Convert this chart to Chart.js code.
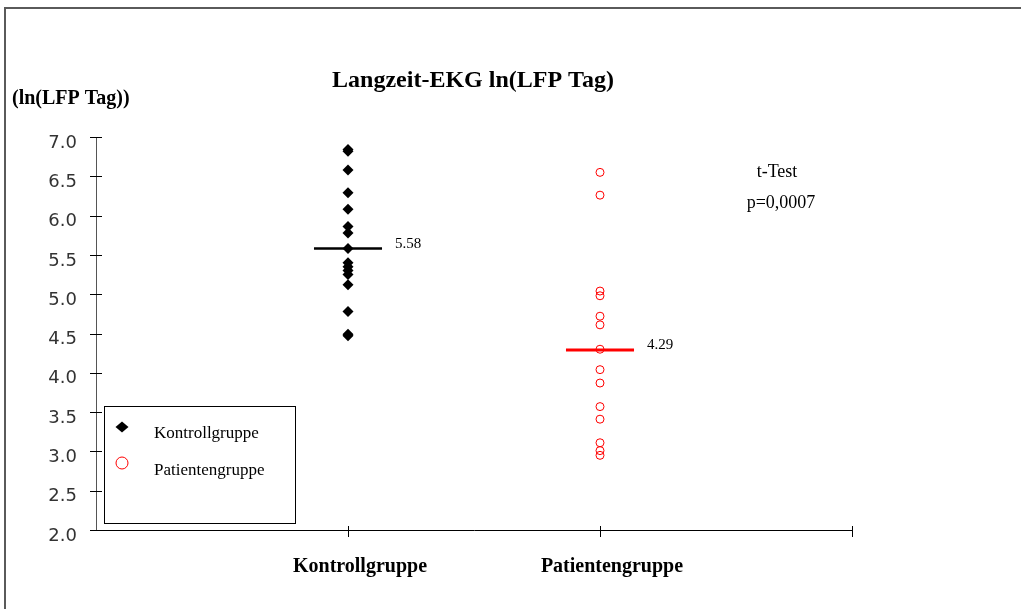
<!DOCTYPE html>
<html>
<head>
<meta charset="utf-8">
<script src="https://cdn.jsdelivr.net/npm/chart.js@4/dist/chart.umd.min.js"></script>
<style>
  html, body { margin: 0; padding: 0; background: #fff; }
  #wrap { position: relative; width: 1021px; height: 609px; }
</style>
</head>
<body>
<div id="wrap"><canvas id="chart" width="1021" height="609"></canvas></div>
<script>
// categories and values
const categories = ['Kontrollgruppe', 'Patientengruppe'];
const kontrollValues = [6.84, 6.82, 6.58, 6.29, 6.08, 5.86, 5.78, 5.58, 5.40, 5.35, 5.30, 5.25, 5.12, 4.78, 4.49, 4.47];
const patientValues = [6.55, 6.26, 5.04, 4.98, 4.72, 4.61, 4.30, 4.04, 3.87, 3.57, 3.41, 3.11, 3.01, 2.95];
const means = [5.58, 4.29];
const meanLabels = ['5.58', '4.29'];
const yMin = 2.0, yMax = 7.0, yStep = 0.5;
const testLines = ['t-Test', 'p=0,0007'];

const serif = '"Liberation Serif", "Times New Roman", serif';
const meanHalf = 0.135;

// frame, titles, custom tick marks, legend box and annotations
const decorPlugin = {
  id: 'decor',
  beforeDraw(chart) {
    const ctx = chart.ctx;
    ctx.save();
    ctx.fillStyle = '#fff';
    ctx.fillRect(0, 0, chart.width, chart.height);
    ctx.strokeStyle = '#5a5a5a';
    ctx.lineWidth = 2;
    ctx.beginPath();
    ctx.moveTo(5, chart.height);
    ctx.lineTo(5, 8);
    ctx.lineTo(chart.width, 8);
    ctx.stroke();
    ctx.restore();
  },
  afterDraw(chart) {
    const ctx = chart.ctx;
    const x = chart.scales.x, y = chart.scales.y;
    const area = chart.chartArea;
    ctx.save();

    // tick marks crossing the axes
    ctx.strokeStyle = '#000';
    ctx.lineWidth = 1;
    ctx.beginPath();
    y.ticks.forEach(t => {
      const py = Math.round(y.getPixelForValue(t.value)) + 0.5;
      ctx.moveTo(area.left - 6, py);
      ctx.lineTo(area.left + 6, py);
    });
    [1, 2, 3].forEach(v => {
      const px = Math.round(x.getPixelForValue(v)) + 0.5;
      ctx.moveTo(px, area.bottom - 4);
      ctx.lineTo(px, area.bottom + 7);
    });
    ctx.stroke();

    // main title
    ctx.fillStyle = '#000';
    ctx.textBaseline = 'middle';
    ctx.textAlign = 'center';
    ctx.font = 'bold 24px ' + serif;
    ctx.fillText('Langzeit-EKG ln(LFP Tag)', 473, 81);

    // y axis title
    ctx.textAlign = 'left';
    ctx.font = 'bold 20px ' + serif;
    ctx.fillText('(ln(LFP Tag))', 12, 99);

    // mean value labels
    ctx.font = '15px ' + serif;
    means.forEach((m, i) => {
      const px = x.getPixelForValue(i + 1 + meanHalf) + 13;
      const py = y.getPixelForValue(m) - 5;
      ctx.fillText(meanLabels[i], px, py);
    });

    // t-test text
    ctx.textAlign = 'center';
    ctx.font = '18px ' + serif;
    ctx.fillText(testLines[0], 777, 172);
    ctx.fillText(testLines[1], 781, 203);

    // legend box
    ctx.fillStyle = '#fff';
    ctx.fillRect(104.5, 406.5, 191, 117);
    ctx.strokeStyle = '#000';
    ctx.lineWidth = 1;
    ctx.strokeRect(104.5, 406.5, 191, 117);

    ctx.fillStyle = '#000';
    ctx.beginPath();
    ctx.moveTo(122, 421.5);
    ctx.lineTo(128.5, 427);
    ctx.lineTo(122, 432.5);
    ctx.lineTo(115.5, 427);
    ctx.closePath();
    ctx.fill();

    ctx.strokeStyle = '#ff0000';
    ctx.beginPath();
    ctx.arc(122, 463, 6, 0, Math.PI * 2);
    ctx.stroke();

    ctx.fillStyle = '#000';
    ctx.textAlign = 'left';
    ctx.font = '17px ' + serif;
    ctx.fillText(categories[0], 154, 434);
    ctx.fillText(categories[1], 154, 471);

    ctx.restore();
  }
};

const chart = new Chart(document.getElementById('chart'), {
  type: 'scatter',
  data: {
    datasets: [
      {
        label: categories[0],
        data: kontrollValues.map(v => ({ x: 1, y: v })),
        pointStyle: 'rectRot',
        pointRadius: 5.5,
        backgroundColor: '#000',
        borderColor: '#000',
        borderWidth: 0,
      },
      {
        label: categories[1],
        data: patientValues.map(v => ({ x: 2, y: v })),
        pointStyle: 'circle',
        pointRadius: 4,
        backgroundColor: 'rgba(255,255,255,0)',
        borderColor: '#ff0000',
        borderWidth: 1,
      },
      {
        type: 'line',
        label: 'mean1',
        data: [{ x: 1 - meanHalf, y: means[0] }, { x: 1 + meanHalf, y: means[0] }],
        borderColor: '#000',
        borderWidth: 2.5,
        pointRadius: 0,
        fill: false,
      },
      {
        type: 'line',
        label: 'mean2',
        data: [{ x: 2 - meanHalf, y: means[1] }, { x: 2 + meanHalf, y: means[1] }],
        borderColor: '#ff0000',
        borderWidth: 3,
        pointRadius: 0,
        fill: false,
      },
    ],
  },
  options: {
    responsive: false,
    animation: false,
    layout: { padding: { top: 137, right: 169, left: 0, bottom: 0 } },
    plugins: {
      legend: { display: false },
      title: { display: false },
      tooltip: { enabled: false },
    },
    scales: {
      x: {
        type: 'linear',
        min: 0,
        max: 3,
        afterFit: (scale) => { scale.height = 79; },
        afterBuildTicks: (scale) => { scale.ticks = [0, 1, 2, 3].map(v => ({ value: v })); },
        grid: { display: false },
        border: { display: true, color: '#000', width: 1 },
        ticks: {
          padding: 17,
          labelOffset: 12,
          color: '#000',
          font: { family: serif, size: 20, weight: 'bold' },
          callback: (v) => (v === 1 ? categories[0] : v === 2 ? categories[1] : ''),
        },
      },
      y: {
        min: yMin,
        max: yMax,
        afterFit: (scale) => { scale.width = 96; },
        grid: { display: false },
        border: { display: true, color: '#555', width: 1 },
        ticks: {
          stepSize: yStep,
          padding: 11,
          labelOffset: 6,
          color: '#333',
          font: { family: '"DejaVu Sans", sans-serif', size: 18 },
          callback: (v) => v.toFixed(1),
        },
      },
    },
  },
  plugins: [decorPlugin],
});
</script>
</body>
</html>
